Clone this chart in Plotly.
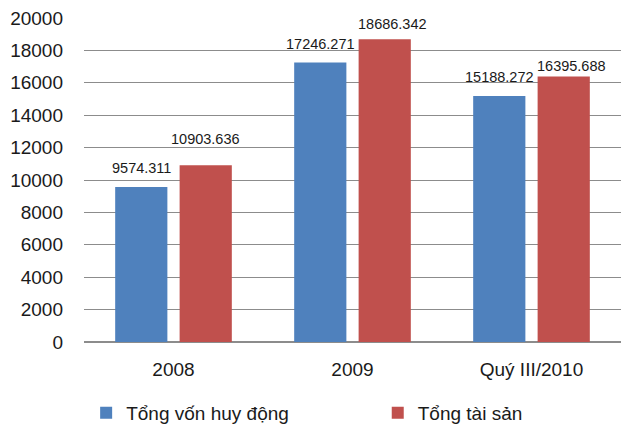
import plotly.graph_objects as go

# Chart data
categories = ["2008", "2009", "Quý III/2010"]
series_names = ["Tổng vốn huy động", "Tổng tài sản"]
von_huy_dong = [9574.311, 17246.271, 15188.272]
tai_san = [10903.636, 18686.342, 16395.688]
y_ticks = [0, 2000, 4000, 6000, 8000, 10000, 12000, 14000, 16000, 18000, 20000]

colors = ["#4F81BD", "#C0504D"]
FONT = "Liberation Sans, Arial, sans-serif"
TXT = "#1a1a1a"

W, H = 621, 424
M_L, M_R, M_T, M_B = 84, 0, 18, 82
BARGAP, GROUPGAP = 0.28, 0.19

# label placement tweaks (pixels above bar top, horizontal nudge) per series
label_lift = [[19, 19, 19], [26, 15, 10]]
label_nudge = [[0, 0, 0], [0, 8, 8]]

fig = go.Figure()
legends = ["legend", "legend2"]
for name, vals, col, lg in zip(series_names, [von_huy_dong, tai_san], colors, legends):
    fig.add_trace(go.Bar(
        x=categories, y=vals, name=name, legend=lg,
        marker=dict(color=col, line=dict(width=0)),
        hoverinfo="x+y",
    ))

# value labels above each bar, shifted to the bar's slot inside the group
# (category positions are given by index so numeric-looking names stay categories)
cat_px = (W - M_L - M_R) / len(categories)
slot_px = cat_px * (1 - BARGAP) / 2
for s, vals in enumerate([von_huy_dong, tai_san]):
    side = -0.5 if s == 0 else 0.5
    for i, v in enumerate(vals):
        fig.add_annotation(
            x=i, y=v, xref="x", yref="y",
            text=f"{v:.3f}", showarrow=False,
            xanchor="center", yanchor="middle",
            xshift=side * slot_px + label_nudge[s][i],
            yshift=label_lift[s][i],
            font=dict(family=FONT, size=14.5, color=TXT),
        )

legend_common = dict(
    orientation="h", yanchor="top", y=-0.16, xanchor="left",
    font=dict(family=FONT, size=19, color=TXT),
    itemwidth=30, bgcolor="rgba(0,0,0,0)",
)
fig.update_layout(
    width=W, height=H,
    margin=dict(l=M_L, r=M_R, t=M_T, b=M_B, autoexpand=False),
    paper_bgcolor="white", plot_bgcolor="white",
    barmode="group", bargap=BARGAP, bargroupgap=GROUPGAP,
    font=dict(family=FONT, color=TXT),
    showlegend=True,
    legend=dict(x=0.004, **legend_common),
    legend2=dict(x=0.547, **legend_common),
)
fig.update_xaxes(
    type="category", categoryorder="array", categoryarray=categories,
    range=[-0.5, len(categories) - 0.5],
    showgrid=False, showline=False, zeroline=False,
    tickfont=dict(family=FONT, size=19, color=TXT),
    ticklabelstandoff=14,
)
fig.update_yaxes(
    range=[0, 20000], tickvals=y_ticks, tickformat="d",
    showgrid=True, gridcolor="#8c8c8c", gridwidth=1.3,
    zeroline=True, zerolinecolor="#8c8c8c", zerolinewidth=1.5,
    showline=False,
    tickfont=dict(family=FONT, size=19, color=TXT),
    ticklabelstandoff=20,
)

fig.write_html("out.html")
